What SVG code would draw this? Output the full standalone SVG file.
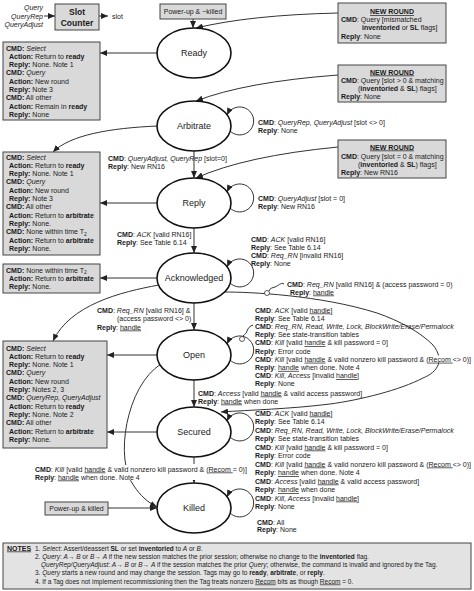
<svg xmlns="http://www.w3.org/2000/svg" width="474" height="591" viewBox="0 0 474 591">
<defs>
<style>
text { font-family: "Liberation Sans", Arial, sans-serif; font-size: 7px; fill: #1a1a1a; }
.b { font-weight: bold; }
.i { font-style: italic; }
.u { text-decoration: underline; }
.box { fill: #d9d9d9; stroke: #444; stroke-width: 1; }
.st { fill: #fff; stroke: #111; stroke-width: 1.6; }
.sl { font-size: 9px; text-anchor: middle; fill: #222; }
.c { fill: none; stroke: #333; stroke-width: 1; }
.a { marker-end: url(#ah); }
.n { font-size: 6.5px; }
.mid { text-anchor: middle; }
.bg { fill: #fff; stroke: none; }
</style>
<marker id="ah" markerWidth="7" markerHeight="6" refX="7" refY="3" orient="auto" markerUnits="userSpaceOnUse"><path d="M0,0 L7,3 L0,6 z" fill="#222"/></marker>
</defs>
<rect x="0" y="0" width="474" height="591" fill="#fff"/>

<g id="connectors">
<path class="c a" d="M44,16 H55"/>
<path class="c a" d="M99,16 H108"/>
<path class="c a" d="M193,19 V28"/>
<path class="c a" d="M338,13 Q250,15 196,28"/>
<path class="c a" d="M157,53 H100"/>
<path class="c a" d="M338,75 Q245,82 196,101"/>
<path class="c a" d="M158,126 C110,128 70,135 53,152"/>
<path class="c a" d="M194,151 V178"/>
<path class="c a" d="M338,147 Q245,156 196,178"/>
<path class="c a" d="M157,203 H100"/>
<path class="c a" d="M194,228 V253"/>
<path class="c a" d="M157,278 H100"/>
<path class="c a" d="M159,285 C120,292 70,305 53,341"/>
<path class="c a" d="M194,303 V330"/>
<path class="c a" d="M157,355 H107"/>
<path class="c a" d="M194,380 V407"/>
<path class="c a" d="M157,432 H107"/>
<path class="c" d="M194,457 V464"/>
<path class="c a" d="M194,479 V483"/>
<path class="c a" d="M108,508 H157"/>
<path class="c a" d="M161,364 C126,386 114,460 134,486 C140,495 147,502 157,507"/>
<path class="c a" d="M224,292 C250,292 320,295 377,313 C400,321 420,332 433,345 C445,360 438,372 423,378 C400,390 360,400 330,404 C290,409 250,410 221,412"/>
<path class="c a" d="M229,130 A14,14 0 1 0 227,115"/>
<path class="c a" d="M229,207 A14,14 0 1 0 227,192"/>
<path class="c a" d="M229,282 A14,14 0 1 0 227,267"/>
<path class="c a" d="M229,359 A14,14 0 1 0 227,344"/>
<path class="c a" d="M229,436 A14,14 0 1 0 227,421"/>
<path class="c a" d="M229,512 A14,14 0 1 0 227,497"/>
<path class="c" d="M284,284 c-3,-2 -6,2 -9,3 s-5,1 -6,4"/>
<circle cx="267" cy="293" r="2.5" fill="#fff" stroke="#333" stroke-width="0.8"/>
<path class="c" d="M253,325 c-3,1 -5,3 -6,6 s-2,3 -4,5"/>
<circle cx="242" cy="339" r="2.5" fill="#fff" stroke="#333" stroke-width="0.8"/>
</g>

<g id="slot-counter">
<text class="i" x="43" y="9.5" text-anchor="end">Query</text>
<text class="i" x="43" y="18.5" text-anchor="end">QueryRep</text>
<text class="i" x="43" y="26.5" text-anchor="end">QueryAdjust</text>
<rect class="box" x="55" y="4" width="44" height="26" stroke-width="1.3"/>
<text class="b mid" x="77" y="15" style="font-size:8.5px">Slot</text>
<text class="b mid" x="77" y="26" style="font-size:8.5px">Counter</text>
<text x="112" y="18.5">slot</text>
</g>

<g id="powerup-notkilled">
<rect class="box" x="160" y="4" width="66" height="15"/>
<text class="mid" x="193" y="14">Power-up &amp; ~killed</text>
</g>

<g id="newround-1">
<rect class="box" x="338" y="3" width="108" height="40"/>
<text class="b u mid" x="392" y="14">NEW ROUND</text>
<text x="341" y="21.5"><tspan class="b">CMD</tspan>: Query [mismatched</text>
<text x="362" y="30"><tspan class="b">inventoried</tspan> or <tspan class="b">SL</tspan> flags]</text>
<text x="341" y="39"><tspan class="b">Reply</tspan>: None</text>
</g>

<g id="newround-2">
<rect class="box" x="338" y="65" width="108" height="37"/>
<text class="b u mid" x="392" y="74.5">NEW ROUND</text>
<text x="341" y="82.5"><tspan class="b">CMD</tspan>: Query [slot &gt; 0 &amp; matching</text>
<text x="358" y="90.5">(<tspan class="b">inventoried</tspan> &amp; <tspan class="b">SL</tspan>) flags]</text>
<text x="341" y="99"><tspan class="b">Reply</tspan>: None</text>
</g>

<g id="newround-3">
<rect class="box" x="338" y="140" width="108" height="38"/>
<text class="b u mid" x="392" y="149.5">NEW ROUND</text>
<text x="341" y="159"><tspan class="b">CMD</tspan>: Query [slot = 0 &amp; matching</text>
<text x="358" y="167">(<tspan class="b">inventoried</tspan> &amp; <tspan class="b">SL</tspan>) flags]</text>
<text x="341" y="175"><tspan class="b">Reply</tspan>: New RN16</text>
</g>

<g id="ready">
<ellipse class="st" cx="194" cy="53" rx="37" ry="25"/>
<text class="sl" x="194" y="56">Ready</text>
</g>
<g id="arbitrate">
<ellipse class="st" cx="194" cy="126" rx="37" ry="25"/>
<text class="sl" x="194" y="129">Arbitrate</text>
</g>
<g id="reply">
<ellipse class="st" cx="194" cy="203" rx="37" ry="25"/>
<text class="sl" x="194" y="206">Reply</text>
</g>
<g id="acknowledged">
<ellipse class="st" cx="194" cy="278" rx="37" ry="25"/>
<text class="sl" x="194" y="281">Acknowledged</text>
</g>
<g id="open">
<ellipse class="st" cx="194" cy="355" rx="37" ry="25"/>
<text class="sl" x="194" y="358">Open</text>
</g>
<g id="secured">
<ellipse class="st" cx="194" cy="432" rx="37" ry="25"/>
<text class="sl" x="194" y="435">Secured</text>
</g>
<g id="killed">
<ellipse class="st" cx="194" cy="508" rx="37" ry="25"/>
<text class="sl" x="194" y="511">Killed</text>
</g>

<g id="box-ready">
<rect class="box" x="3" y="42" width="97" height="78"/>
<text x="6" y="50.5"><tspan class="b">CMD:</tspan> <tspan class="i">Select</tspan></text>
<text x="9" y="58.8"><tspan class="b">Action:</tspan> Return to <tspan class="b">ready</tspan></text>
<text x="9" y="67.1"><tspan class="b">Reply:</tspan> None. Note 1</text>
<text x="6" y="75.4"><tspan class="b">CMD:</tspan> <tspan class="i">Query</tspan></text>
<text x="9" y="83.7"><tspan class="b">Action:</tspan> New round</text>
<text x="9" y="92"><tspan class="b">Reply:</tspan> Note 3</text>
<text x="6" y="100.3"><tspan class="b">CMD:</tspan> All other</text>
<text x="9" y="108.6"><tspan class="b">Action:</tspan> Remain in <tspan class="b">ready</tspan></text>
<text x="9" y="116.9"><tspan class="b">Reply:</tspan> None</text>
</g>

<g id="box-arbitrate-reply">
<rect class="box" x="3" y="152" width="97" height="103"/>
<text x="6" y="159.5"><tspan class="b">CMD:</tspan> <tspan class="i">Select</tspan></text>
<text x="9" y="167.8"><tspan class="b">Action:</tspan> Return to <tspan class="b">ready</tspan></text>
<text x="9" y="176.1"><tspan class="b">Reply:</tspan> None. Note 1</text>
<text x="6" y="184.4"><tspan class="b">CMD:</tspan> <tspan class="i">Query</tspan></text>
<text x="9" y="192.7"><tspan class="b">Action:</tspan> New round</text>
<text x="9" y="201"><tspan class="b">Reply:</tspan> Note 3</text>
<text x="6" y="209.3"><tspan class="b">CMD:</tspan> All other</text>
<text x="9" y="217.6"><tspan class="b">Action:</tspan> Return to <tspan class="b">arbitrate</tspan></text>
<text x="9" y="225.9"><tspan class="b">Reply:</tspan> None.</text>
<text x="6" y="234.2"><tspan class="b">CMD:</tspan> None within time T<tspan dy="1.5" style="font-size:5px">2</tspan></text>
<text x="9" y="242.5"><tspan class="b">Action:</tspan> Return to <tspan class="b">arbitrate</tspan></text>
<text x="9" y="250.8"><tspan class="b">Reply:</tspan> None.</text>
</g>

<g id="box-acknowledged">
<rect class="box" x="3" y="264" width="97" height="29"/>
<text x="6" y="272.5"><tspan class="b">CMD:</tspan> None within time T<tspan dy="1.5" style="font-size:5px">2</tspan></text>
<text x="9" y="280.8"><tspan class="b">Action:</tspan> Return to <tspan class="b">arbitrate</tspan></text>
<text x="9" y="289.1"><tspan class="b">Reply:</tspan> None.</text>
</g>

<g id="box-open-secured">
<rect class="box" x="3" y="341" width="104" height="107"/>
<text x="6" y="350.5"><tspan class="b">CMD:</tspan> <tspan class="i">Select</tspan></text>
<text x="9" y="358.8"><tspan class="b">Action:</tspan> Return to <tspan class="b">ready</tspan></text>
<text x="9" y="367.1"><tspan class="b">Reply:</tspan> None. Note 1</text>
<text x="6" y="375.4"><tspan class="b">CMD:</tspan> <tspan class="i">Query</tspan></text>
<text x="9" y="383.7"><tspan class="b">Action:</tspan> New round</text>
<text x="9" y="392"><tspan class="b">Reply:</tspan> Notes 2, 3</text>
<text x="6" y="400.3"><tspan class="b">CMD:</tspan> <tspan class="i">QueryRep, QueryAdjust</tspan></text>
<text x="9" y="408.6"><tspan class="b">Action:</tspan> Return to <tspan class="b">ready</tspan></text>
<text x="9" y="416.9"><tspan class="b">Reply:</tspan> None. Note 2</text>
<text x="6" y="425.2"><tspan class="b">CMD:</tspan> All other</text>
<text x="9" y="433.5"><tspan class="b">Action:</tspan> Return to <tspan class="b">arbitrate</tspan></text>
<text x="9" y="441.8"><tspan class="b">Reply:</tspan> None.</text>
</g>

<g id="powerup-killed">
<rect class="box" x="45" y="502" width="63" height="13"/>
<text class="mid" x="76.5" y="511">Power-up &amp; killed</text>
</g>

<g id="labels">
<text x="258" y="124.5"><tspan class="b">CMD</tspan>: <tspan class="i">QueryRep, QueryAdjust</tspan> [slot &lt;&gt; 0]</text>
<text x="258" y="132.5"><tspan class="b">Reply</tspan>: None</text>

<text x="108" y="160.5"><tspan class="b">CMD</tspan>: <tspan class="i">QueryAdjust, QueryRep</tspan> [slot=0]</text>
<text x="108" y="168.5"><tspan class="b">Reply</tspan>: New RN16</text>

<text x="258" y="200.5"><tspan class="b">CMD</tspan>: <tspan class="i">QueryAdjust</tspan> [slot = 0]</text>
<text x="258" y="208.5"><tspan class="b">Reply</tspan>: New RN16</text>

<text x="117" y="236.5"><tspan class="b">CMD</tspan>: <tspan class="i">ACK</tspan> [valid RN16]</text>
<text x="117" y="244.5"><tspan class="b">Reply</tspan>: See Table 6.14</text>

<text x="251" y="241.5"><tspan class="b">CMD</tspan>: <tspan class="i">ACK</tspan> [valid RN16]</text>
<text x="251" y="249.7"><tspan class="b">Reply</tspan>: See Table 6.14</text>
<text x="251" y="257.9"><tspan class="b">CMD</tspan>: <tspan class="i">Req_RN</tspan> [invalid RN16]</text>
<text x="251" y="266.1"><tspan class="b">Reply</tspan>: None</text>

<text x="287" y="286.5"><tspan class="b">CMD</tspan>: <tspan class="i">Req_RN</tspan> [valid RN16] &amp; (access password = 0)</text>
<text x="290" y="294.5"><tspan class="b">Reply</tspan>: <tspan class="u">handle</tspan></text>

<text x="97" y="312.5"><tspan class="b">CMD</tspan>: <tspan class="i">Req_RN</tspan> [valid RN16] &amp;</text>
<text x="117" y="321">(access password &lt;&gt; 0)</text>
<text x="97" y="329.5"><tspan class="b">Reply</tspan>: <tspan class="u">handle</tspan></text>

<rect class="bg" x="253" y="355.5" width="221" height="7"/>
<text x="255" y="312.5"><tspan class="b">CMD</tspan>: <tspan class="i">ACK</tspan> [valid <tspan class="u">handle</tspan>]</text>
<text x="255" y="320.7"><tspan class="b">Reply</tspan>: See Table 6.14</text>
<text x="255" y="328.9"><tspan class="b">CMD</tspan>: <tspan class="i">Req_RN, Read, Write, Lock, BlockWrite/Erase/Permalock</tspan></text>
<text x="255" y="337.1"><tspan class="b">Reply</tspan>: See state-transition tables</text>
<text x="255" y="345.3"><tspan class="b">CMD</tspan>: <tspan class="i">Kill</tspan> [valid <tspan class="u">handle</tspan> &amp; kill password = 0]</text>
<text x="255" y="353.5"><tspan class="b">Reply</tspan>: Error code</text>
<text x="255" y="361.7"><tspan class="b">CMD</tspan>: <tspan class="i">Kill</tspan> [valid <tspan class="u">handle</tspan> &amp; valid nonzero kill password &amp; (<tspan class="u">Recom </tspan>&lt;&gt; 0)]</text>
<text x="255" y="369.9"><tspan class="b">Reply</tspan>: <tspan class="u">handle</tspan> when done. Note 4</text>
<text x="255" y="378.1"><tspan class="b">CMD</tspan>: <tspan class="i">Kill, Access</tspan> [invalid <tspan class="u">handle</tspan>]</text>
<text x="255" y="386.3"><tspan class="b">Reply</tspan>: None</text>

<text x="198" y="395.5"><tspan class="b">CMD</tspan>: <tspan class="i">Access</tspan> [valid <tspan class="u">handle</tspan> &amp; valid access password]</text>
<text x="198" y="403.5"><tspan class="b">Reply</tspan>: <tspan class="u">handle</tspan> when done</text>

<text x="255" y="415.5"><tspan class="b">CMD</tspan>: <tspan class="i">ACK</tspan> [valid <tspan class="u">handle</tspan>]</text>
<text x="255" y="424"><tspan class="b">Reply</tspan>: See Table 6.14</text>
<text x="255" y="432.5"><tspan class="b">CMD</tspan>: <tspan class="i">Req_RN, Read, Write, Lock, BlockWrite/Erase/Permalock</tspan></text>
<text x="255" y="441"><tspan class="b">Reply</tspan>: See state-transition tables</text>
<text x="255" y="449.5"><tspan class="b">CMD</tspan>: <tspan class="i">Kill</tspan> [valid <tspan class="u">handle</tspan> &amp; kill password = 0]</text>
<text x="255" y="458"><tspan class="b">Reply</tspan>: Error code</text>
<text x="255" y="466.5"><tspan class="b">CMD</tspan>: <tspan class="i">Kill</tspan> [valid <tspan class="u">handle</tspan> &amp; valid nonzero kill password &amp; (<tspan class="u">Recom </tspan>&lt;&gt; 0)]</text>
<text x="255" y="475"><tspan class="b">Reply</tspan>: <tspan class="u">handle</tspan> when done. Note 4</text>
<text x="255" y="483.5"><tspan class="b">CMD</tspan>: <tspan class="i">Access</tspan> [valid <tspan class="u">handle</tspan> &amp; valid access password]</text>
<text x="255" y="492"><tspan class="b">Reply</tspan>: <tspan class="u">handle</tspan> when done</text>
<text x="255" y="500.5"><tspan class="b">CMD</tspan>: <tspan class="i">Kill, Access</tspan> [invalid <tspan class="u">handle</tspan>]</text>
<text x="255" y="509"><tspan class="b">Reply</tspan>: None</text>

<rect class="bg" x="34" y="465" width="210" height="15"/>
<text x="35" y="471.5"><tspan class="b">CMD</tspan>: <tspan class="i">Kill</tspan> [valid <tspan class="u">handle</tspan> &amp; valid nonzero kill password &amp; (<tspan class="u">Recom </tspan>= 0)]</text>
<text x="35" y="479.5"><tspan class="b">Reply</tspan>: <tspan class="u">handle</tspan> when done. Note 4</text>

<text x="257" y="524.5"><tspan class="b">CMD</tspan>: All</text>
<text x="257" y="532"><tspan class="b">Reply</tspan>: None</text>
</g>

<g id="notes">
<rect x="3" y="543" width="468" height="46" fill="#e3e3e3" stroke="#444" stroke-width="1"/>
<text class="b u" x="7" y="550.5">NOTES</text>
<text class="n" x="35" y="550.5">1. <tspan class="i">Select</tspan>: Assert/deassert <tspan class="b">SL</tspan> or set <tspan class="b">inventoried</tspan> to <tspan class="i">A</tspan> or <tspan class="i">B</tspan>.</text>
<text class="n" x="35" y="558.7">2. <tspan class="i">Query</tspan>: <tspan class="i">A</tspan>→ <tspan class="i">B</tspan> or <tspan class="i">B</tspan>→ <tspan class="i">A</tspan> if the new session matches the prior session; otherwise no change to the <tspan class="b">inventoried</tspan> flag.</text>
<text class="n" x="41" y="566.9"><tspan class="i">QueryRep/QueryAdjust</tspan>: <tspan class="i">A</tspan>→ <tspan class="i">B</tspan> or <tspan class="i">B</tspan>→ <tspan class="i">A</tspan> if the session matches the prior <tspan class="i">Query</tspan>; otherwise, the command is invalid and ignored by the Tag.</text>
<text class="n" x="35" y="575.3">3. <tspan class="i">Query</tspan> starts a new round and may change the session. Tags may go to <tspan class="b">ready</tspan>, <tspan class="b">arbitrate</tspan>, or <tspan class="b">reply</tspan>.</text>
<text class="n" x="35" y="583.5">4. If a Tag does not implement recommissioning then the Tag treats nonzero <tspan class="u">Recom</tspan> bits as though <tspan class="u">Recom</tspan> = 0.</text>
</g>
</svg>
